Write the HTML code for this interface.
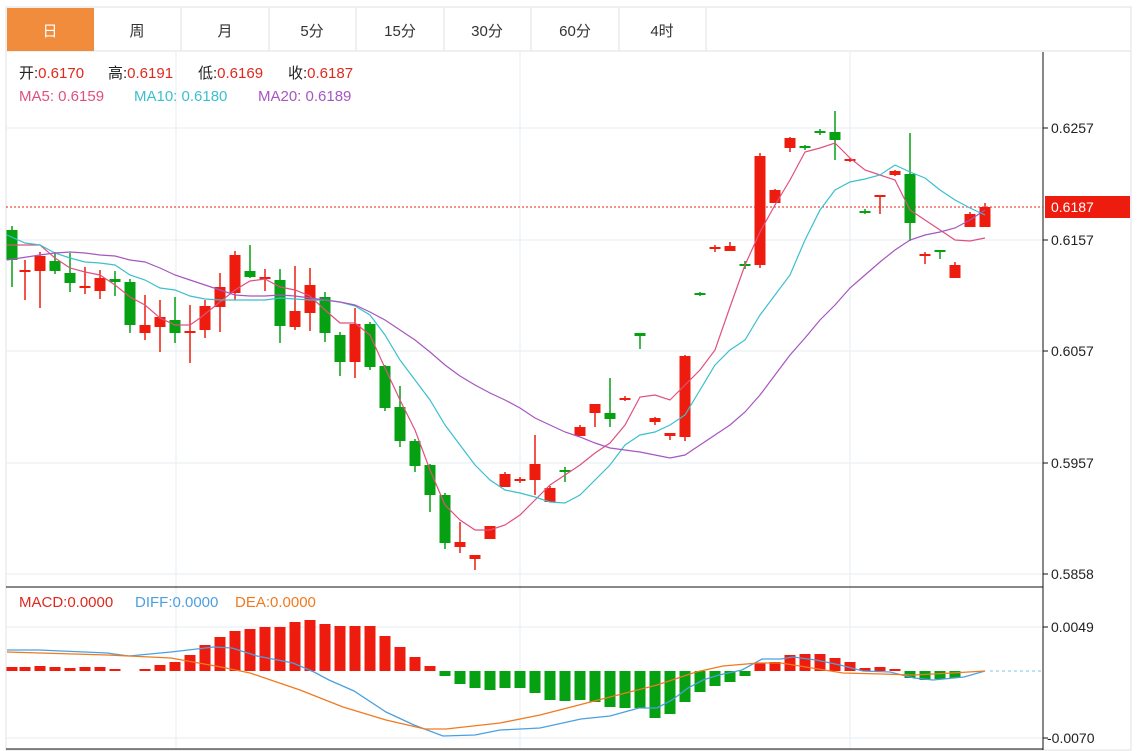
<!DOCTYPE html>
<html><head><meta charset="utf-8">
<style>
html,body{margin:0;padding:0;background:#fff;width:1144px;height:751px;overflow:hidden;font-family:"Liberation Sans","Noto Sans CJK SC",sans-serif;}
svg{position:absolute;left:0;top:0}
</style></head><body>
<svg id="s" width="1144" height="751" xmlns="http://www.w3.org/2000/svg" font-family="Liberation Sans, Noto Sans CJK SC, sans-serif">
<rect x="6" y="7" width="1125" height="743" fill="#fff" stroke="#e2e2e2"/>
<line x1="6" y1="51" x2="1131" y2="51" stroke="#e2e2e2"/>
<rect x="7" y="8" width="87" height="43" fill="#f08c3c"/>
<g stroke="#e2e2e2"><line x1="181" y1="8" x2="181" y2="51"/><line x1="269" y1="8" x2="269" y2="51"/><line x1="356" y1="8" x2="356" y2="51"/><line x1="444" y1="8" x2="444" y2="51"/><line x1="531" y1="8" x2="531" y2="51"/><line x1="619" y1="8" x2="619" y2="51"/><line x1="706" y1="8" x2="706" y2="51"/></g>
<g font-size="15" text-anchor="middle" fill="#333"><text x="50" y="36" fill="#fff">日</text><text x="137" y="36">周</text><text x="225" y="36">月</text><text x="312" y="36">5分</text><text x="400" y="36">15分</text><text x="487" y="36">30分</text><text x="575" y="36">60分</text><text x="662" y="36">4时</text></g>
<g stroke="#e6edf2"><line x1="176" y1="52" x2="176" y2="749"/><line x1="520" y1="52" x2="520" y2="749"/><line x1="850" y1="52" x2="850" y2="749"/>
<line x1="6" y1="128" x2="1043" y2="128"/><line x1="6" y1="240" x2="1043" y2="240"/><line x1="6" y1="351" x2="1043" y2="351"/><line x1="6" y1="463" x2="1043" y2="463"/><line x1="6" y1="574" x2="1043" y2="574"/><line x1="6" y1="627" x2="1043" y2="627"/><line x1="6" y1="738" x2="1043" y2="738"/></g>
<line x1="6" y1="587" x2="1043" y2="587" stroke="#111"/>
<line x1="6" y1="749" x2="1043" y2="749" stroke="#111"/>
<line x1="1043" y1="52" x2="1043" y2="750" stroke="#111"/>
<g stroke="#111"><line x1="1043" y1="128" x2="1048" y2="128"/><line x1="1043" y1="240" x2="1048" y2="240"/><line x1="1043" y1="351" x2="1048" y2="351"/><line x1="1043" y1="463" x2="1048" y2="463"/><line x1="1043" y1="574" x2="1048" y2="574"/><line x1="1043" y1="627" x2="1048" y2="627"/><line x1="1043" y1="738" x2="1048" y2="738"/></g>
<g font-size="14" fill="#222"><text x="1051" y="133">0.6257</text><text x="1051" y="245">0.6157</text><text x="1051" y="356">0.6057</text><text x="1051" y="468">0.5957</text><text x="1051" y="579">0.5858</text><text x="1051" y="632">0.0049</text><text x="1047" y="743">-0.0070</text></g>
<line x1="6" y1="207" x2="1043" y2="207" stroke="#e8221a" stroke-dasharray="2,2"/>
<rect x="1045" y="196" width="85" height="22" fill="#ee1c0e"/>
<text x="1051" y="212" font-size="14" fill="#fff">0.6187</text>
<line x1="990" y1="671" x2="1043" y2="671" stroke="#7fc4e6" stroke-dasharray="3,3"/>
<g id="c"></g>
<g font-size="15">
<text x="19" y="78" fill="#222">开:<tspan fill="#e0281e">0.6170</tspan></text>
<text x="108" y="78" fill="#222">高:<tspan fill="#e0281e">0.6191</tspan></text>
<text x="198" y="78" fill="#222">低:<tspan fill="#e0281e">0.6169</tspan></text>
<text x="288" y="78" fill="#222">收:<tspan fill="#e0281e">0.6187</tspan></text>
<text x="19" y="101" fill="#e0507f">MA5: 0.6159</text>
<text x="134" y="101" fill="#3bbfcf">MA10: 0.6180</text>
<text x="258" y="101" fill="#a656c0">MA20: 0.6189</text>
<text x="19" y="607" fill="#e0281e">MACD:0.0000</text>
<text x="135" y="607" fill="#4ca0e0">DIFF:0.0000</text>
<text x="235" y="607" fill="#f07a20">DEA:0.0000</text></g>
</svg>
<script>
var C=[[12,'g',230,260,226,287],[25,'r',270,272,260,300],[40,'r',256,271,252,308],[55,'g',261,271,252,274],[70,'g',273,283,253,292],[85,'r',286,288,267,294],[100,'r',278,291,270,299],[115,'g',279,282,271,296],[130,'g',282,325,279,333],[145,'r',325,333,295,340],[160,'r',317,327,300,352],[175,'g',320,333,297,343],[190,'r',331,333,305,363],[205,'r',306,330,300,338],[220,'r',287,307,273,332],[235,'r',255,293,251,300],[250,'g',271,277,245,278],[265,'r',277,279,269,291],[280,'g',280,326,269,343],[295,'r',311,327,266,330],[310,'r',285,313,268,331],[325,'g',297,333,292,342],[340,'g',335,362,332,376],[355,'r',324,362,308,378],[370,'g',324,367,322,370],[385,'g',366,408,365,411],[400,'g',407,441,386,447],[415,'g',441,466,439,472],[430,'g',465,495,464,512],[445,'g',495,543,493,549],[460,'r',542,547,522,553],[475,'r',555,559,555,570],[490,'r',526,539,526,539],[505,'r',474,487,472,487],[520,'r',479,481,477,483],[535,'r',464,480,435,495],[550,'r',488,502,486,502],[565,'g',470,472,467,482],[580,'r',427,436,425,436],[595,'r',404,413,404,427],[610,'g',413,419,378,427],[625,'r',398,400,396,401],[640,'g',333,336,333,349],[655,'r',418,422,417,425],[670,'r',433,436,433,440],[685,'r',356,437,355,441],[700,'g',293,295,292,296],[715,'r',247,249,245,252],[730,'r',246,251,242,251],[745,'g',264,266,261,269],[760,'r',156,265,153,268],[775,'r',190,203,189,203],[790,'r',138,148,137,152],[805,'g',146,148,145,150],[820,'g',131,133,129,135],[835,'g',132,140,111,160],[850,'r',159,161,158,162],[865,'g',211,213,209,214],[880,'r',195,197,196,214],[895,'r',171,175,170,176],[910,'g',174,223,133,241],[925,'r',254,256,252,264],[940,'g',250,252,250,259],[955,'r',265,278,262,278],[970,'r',214,227,212,227],[985,'r',207,227,203,227]];
var H=[[12,667],[25,667],[40,666],[55,667],[70,668],[85,667],[100,667],[115,669],[145,669],[160,665],[175,662],[190,655],[205,645],[220,637],[235,631],[250,629],[265,627],[280,627],[295,622],[310,620],[325,624],[340,626],[355,626],[370,626],[385,636],[400,647],[415,657],[430,666],[445,676],[460,684],[475,688],[490,690],[505,688],[520,688],[535,693],[550,700],[565,701],[580,700],[595,702],[610,707],[625,708],[640,708],[655,718],[670,714],[685,702],[700,692],[715,686],[730,682],[745,676],[760,663],[775,662],[790,655],[805,654],[820,654],[835,658],[850,662],[865,668],[880,667],[895,669],[910,678],[925,680],[940,679],[955,678]];
var MA5="7,245 40,245 55,258 70,268 85,272 100,275 115,285 130,297 145,305 160,318 175,325 190,325 200,318 220,302 235,290 250,281 265,279 280,287 295,290 310,296 325,310 340,323 355,323 370,335 385,368 400,400 415,430 430,470 445,505 460,520 475,530 490,530 505,525 520,515 535,500 550,485 565,475 580,465 595,453 610,443 625,425 640,397 655,395 670,400 685,385 700,370 715,350 730,307 745,265 760,232 775,205 790,180 805,152 820,148 835,143 850,158 865,170 880,175 895,180 910,210 925,220 940,230 955,240 970,241 985,238";
var MA10="7,235 25,243 40,245 55,253 70,258 85,262 100,263 115,265 130,275 145,280 160,288 175,290 190,296 205,299 220,300 235,300 250,300 265,300 280,298 295,299 310,300 325,300 340,302 355,306 370,315 385,335 400,360 415,380 430,400 445,425 460,445 475,465 490,480 505,490 520,493 535,497 550,502 565,503 580,495 595,480 610,465 625,445 640,435 655,432 670,425 685,415 700,390 715,365 730,350 745,340 760,315 775,295 790,275 805,240 820,210 835,190 850,182 865,179 880,175 895,165 910,172 925,178 940,190 955,200 970,208 985,215";
var MA20="7,260 40,255 55,253 70,252 85,253 100,255 115,256 130,260 145,262 160,268 175,275 190,280 205,285 220,290 235,295 250,296 265,296 280,295 295,296 310,298 325,300 340,302 355,305 370,312 385,320 400,330 415,340 430,352 445,365 460,376 475,385 490,393 505,400 520,408 535,418 550,425 565,432 580,437 595,443 610,448 625,450 640,452 655,455 670,458 685,455 700,445 715,435 730,425 745,412 760,395 775,375 790,355 805,338 820,320 835,305 850,288 865,275 880,262 895,250 910,240 925,235 940,232 955,228 970,220 985,210";
var DIFF="7,650 39,650 107,653 129,656 171,652 214,647 232,648 257,656 293,663 314,672 329,680 354,691 386,712 414,725 443,736 475,735 500,730 540,728 581,719 610,716 639,708 657,708 672,700 688,688 703,680 719,675 742,670 762,659 781,659 793,657 816,660 840,665 863,671 890,672 914,678 933,680 964,677 985,671";
var DEA="7,652 107,655 129,656 171,658 193,662 221,667 250,673 300,690 343,707 386,720 425,729 446,729 500,723 540,715 610,697 657,685 696,672 723,666 758,663 781,663 812,668 843,673 882,674 914,675 952,673 985,671";
var s='';
H.forEach(function(h){var x=h[0]-5.5,y=h[1];if(y<671)s+='<rect x="'+x+'" y="'+y+'" width="11" height="'+(671-y)+'" fill="#ee1c0e"/>';else s+='<rect x="'+x+'" y="671" width="11" height="'+(y-671)+'" fill="#05a112"/>';});
s+='<polyline points="'+DIFF+'" fill="none" stroke="#4ca0e0" stroke-width="1.3"/>';
s+='<polyline points="'+DEA+'" fill="none" stroke="#f07a20" stroke-width="1.3"/>';
C.forEach(function(c){var col=c[1]=='r'?'#ee1c0e':'#05a112';s+='<line x1="'+c[0]+'" y1="'+c[4]+'" x2="'+c[0]+'" y2="'+c[5]+'" stroke="'+col+'" stroke-width="1.5"/>';var h=Math.max(2,c[3]-c[2]);s+='<rect x="'+(c[0]-5.5)+'" y="'+c[2]+'" width="11" height="'+h+'" fill="'+col+'"/>';});
s+='<polyline points="'+MA5+'" fill="none" stroke="#e0507f" stroke-width="1.2"/>';
s+='<polyline points="'+MA10+'" fill="none" stroke="#3bbfcf" stroke-width="1.2"/>';
s+='<polyline points="'+MA20+'" fill="none" stroke="#a656c0" stroke-width="1.2"/>';
document.getElementById('c').innerHTML=s;
</script>
</body></html>
